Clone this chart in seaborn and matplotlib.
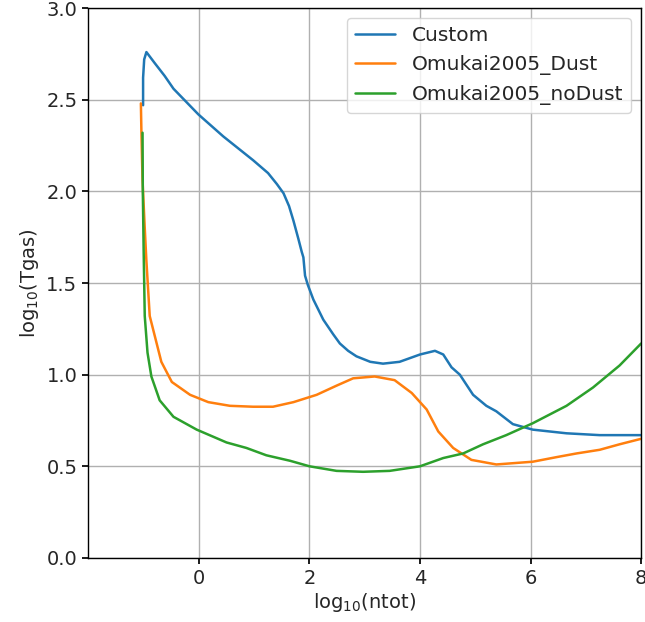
import numpy as np
import pandas as pd
import matplotlib
matplotlib.use("Agg")
import matplotlib.pyplot as plt
import seaborn as sns

custom_x = [-1.01, -1.01, -0.99, -0.95, -0.80, -0.62, -0.46, -0.01, 0.44, 0.98, 1.25, 1.41, 1.53, 1.63, 1.71,
            1.80, 1.86, 1.89, 1.92, 1.97, 2.07, 2.25, 2.43, 2.55, 2.70, 2.85, 3.10, 3.33, 3.63, 4.00, 4.27, 4.42,
            4.57, 4.72, 4.96, 5.20, 5.38, 5.68, 6.04, 6.65, 7.25, 8.0]
custom_y = [2.47, 2.62, 2.72, 2.76, 2.70, 2.63, 2.56, 2.42, 2.30, 2.17, 2.10, 2.04, 1.99, 1.92, 1.84,
            1.74, 1.67, 1.64, 1.54, 1.49, 1.41, 1.30, 1.22, 1.17, 1.13, 1.10, 1.07, 1.06, 1.07, 1.11, 1.13, 1.11,
            1.04, 1.00, 0.89, 0.83, 0.80, 0.73, 0.70, 0.68, 0.67, 0.67]

dust_x = [-1.05, -1.04, -1.02, -0.98, -0.95, -0.89, -0.68, -0.49, -0.16, 0.17, 0.56, 0.98, 1.34,
          1.71, 2.13, 2.49, 2.79, 3.18, 3.54, 3.85, 4.12, 4.33, 4.60, 4.93, 5.38, 6.04, 6.47,
          6.83, 7.25, 7.61, 8.0]
dust_y = [2.48, 2.32, 2.06, 1.80, 1.62, 1.32, 1.07, 0.96, 0.89, 0.85, 0.83, 0.825, 0.825,
          0.85, 0.89, 0.94, 0.98, 0.99, 0.97, 0.90, 0.81, 0.69, 0.60, 0.535, 0.51, 0.525, 0.55,
          0.57, 0.59, 0.62, 0.65]

nodust_x = [-1.02, -1.015, -1.0, -0.98, -0.93, -0.86, -0.71, -0.46, -0.04, 0.50, 0.86, 1.22, 1.65,
            2.0, 2.49, 2.97, 3.45, 4.0, 4.42, 4.78, 5.14, 5.56, 6.04, 6.65, 7.13, 7.61, 8.0]
nodust_y = [2.32, 2.00, 1.68, 1.32, 1.12, 0.99, 0.86, 0.77, 0.70, 0.63, 0.60, 0.56, 0.53,
            0.50, 0.475, 0.47, 0.475, 0.50, 0.545, 0.57, 0.62, 0.67, 0.735, 0.83, 0.93, 1.05, 1.17]

series_names = ["Custom", "Omukai2005_Dust", "Omukai2005_noDust"]

frames = []
for name, xs, ys in zip(series_names, [custom_x, dust_x, nodust_x], [custom_y, dust_y, nodust_y]):
    frames.append(pd.DataFrame({"x": xs, "y": ys, "model": name}))
df = pd.concat(frames, ignore_index=True)

sns.set_theme(style="ticks")
plt.rcParams['font.family'] = ['DejaVu Sans']

fig = plt.figure(figsize=(6.45, 6.22), dpi=100)
ax = fig.add_axes([0.137, 0.103, 0.857, 0.884])
palette = ["#1f77b4", "#ff7f0e", "#2ca02c"]
sns.lineplot(data=df, x="x", y="y", hue="model", palette=palette, sort=False,
             estimator=None, linewidth=1.8, ax=ax)

ax.set_xlim(-2, 8)
ax.set_ylim(0, 3)
ax.set_xticks([0, 2, 4, 6, 8])
ax.set_yticks([0, 0.5, 1.0, 1.5, 2.0, 2.5, 3.0])
ax.set_yticklabels(["0.0", "0.5", "1.0", "1.5", "2.0", "2.5", "3.0"])
ax.grid(True, color="#b0b0b0", linewidth=1.0)
ax.tick_params(labelsize=14, direction="out", length=4, color="black", pad=4)
for s in ax.spines.values():
    s.set_color("black")
    s.set_linewidth(1.0)
ax.set_xlabel(r"log$_{10}$(ntot)", fontsize=14, labelpad=2)
ax.set_ylabel(r"log$_{10}$(Tgas)", fontsize=14, labelpad=4)
leg = ax.legend(loc="upper right", fontsize=14.5, title=None, frameon=True)
leg.get_frame().set_edgecolor("#cccccc")

fig.savefig("out.png", dpi=100)
